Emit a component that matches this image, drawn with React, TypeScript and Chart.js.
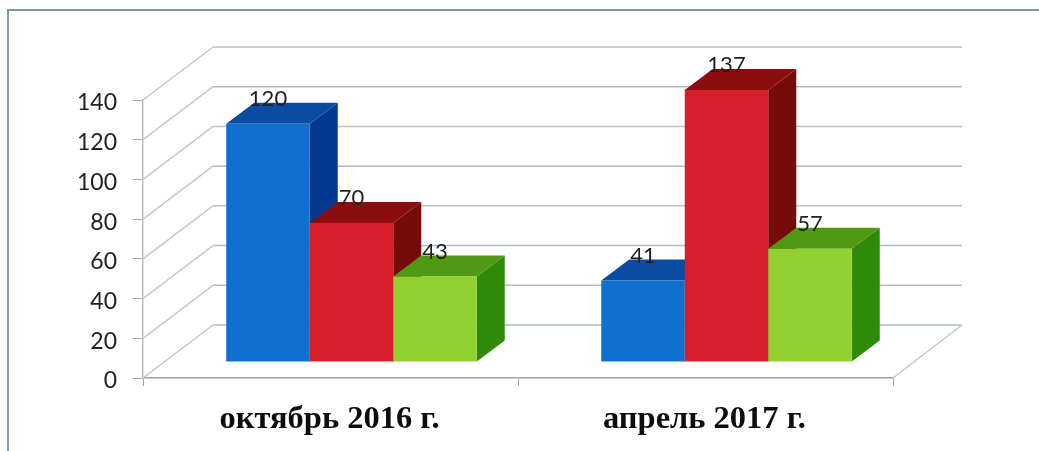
import React, { useEffect, useRef } from "react";
import { Chart, registerables } from "chart.js";

Chart.register(...registerables);

const categories = ["октябрь 2016 г.", "апрель 2017 г."];
const seriesBlue = [120, 41];
const seriesRed = [70, 137];
const seriesGreen = [43, 57];
const faceColors = ["#0f70cf", "#d81e2a", "#92d030"];
const topColors = ["#0a4ca3", "#8c0d10", "#4f9a12"];
const sideColors = ["#05388f", "#760b0b", "#2f8a0a"];

const WALL_DX = 70;
const WALL_DY = -53;
const BAR_DX = 21;
const BAR_DY = -16;
const BAR_DEPTH_X = 28;
const BAR_DEPTH_Y = -21;

const poly = (ctx: CanvasRenderingContext2D, pts: number[][], fill: string) => {
  ctx.beginPath();
  pts.forEach(([x, y], i) => (i ? ctx.lineTo(x, y) : ctx.moveTo(x, y)));
  ctx.closePath();
  ctx.fillStyle = fill;
  ctx.fill();
};

const bars3d = {
  id: "bars3d",
  beforeDraw(chart: any) {
    const { ctx } = chart;
    ctx.save();
    ctx.fillStyle = "#ffffff";
    ctx.fillRect(0, 0, chart.width, chart.height);
    ctx.fillStyle = "#7f9aa5";
    ctx.fillRect(7, 9, 1032, 2);
    ctx.fillRect(7, 9, 2, 442);
    ctx.restore();
  },
  beforeDatasetsDraw(chart: any) {
    const { ctx, chartArea: a, scales } = chart;
    ctx.save();
    ctx.lineWidth = 1.5;
    scales.y.ticks.forEach((t: any, i: number) => {
      const y = scales.y.getPixelForValue(t.value);
      ctx.strokeStyle = "#c8c8c8";
      ctx.beginPath();
      ctx.moveTo(a.left, y);
      ctx.lineTo(a.left + WALL_DX, y + WALL_DY);
      ctx.stroke();
      ctx.strokeStyle = i % 2 ? "#bdbdbd" : "#a9bccb";
      ctx.beginPath();
      ctx.moveTo(a.left + WALL_DX, y + WALL_DY);
      ctx.lineTo(a.right + WALL_DX - 1, y + WALL_DY);
      ctx.stroke();
    });
    ctx.strokeStyle = "#c8c8c8";
    ctx.beginPath();
    ctx.moveTo(a.right, a.bottom);
    ctx.lineTo(a.right + WALL_DX - 1, a.bottom + WALL_DY);
    ctx.stroke();
    ctx.restore();
  },
  beforeDatasetDraw() {
    return false;
  },
  afterDatasetsDraw(chart: any) {
    const { ctx } = chart;
    ctx.save();
    ctx.translate(BAR_DX, BAR_DY);
    chart.data.datasets.forEach((_: any, d: number) => {
      chart.getDatasetMeta(d).data.forEach((bar: any) => {
        const x0 = bar.x - bar.width / 2;
        const x1 = bar.x + bar.width / 2;
        poly(ctx, [[x1, bar.y], [x1 + BAR_DEPTH_X, bar.y + BAR_DEPTH_Y], [x1 + BAR_DEPTH_X, bar.base + BAR_DEPTH_Y], [x1, bar.base]], sideColors[d]);
        poly(ctx, [[x0, bar.y], [x1, bar.y], [x1 + BAR_DEPTH_X, bar.y + BAR_DEPTH_Y], [x0 + BAR_DEPTH_X, bar.y + BAR_DEPTH_Y]], topColors[d]);
        bar.draw(ctx);
      });
    });
    ctx.font = "22px Lato";
    ctx.fillStyle = "#1f1f1f";
    ctx.textAlign = "center";
    ctx.textBaseline = "middle";
    chart.data.datasets.forEach((ds: any, d: number) => {
      chart.getDatasetMeta(d).data.forEach((bar: any, i: number) => {
        ctx.fillText(String(ds.data[i]), bar.x, bar.y - 25);
      });
    });
    ctx.restore();
  },
};

export default function App() {
  const ref = useRef<HTMLCanvasElement>(null);
  useEffect(() => {
    const chart = new Chart(ref.current as HTMLCanvasElement, {
      type: "bar",
      data: {
        labels: categories,
        datasets: [seriesBlue, seriesRed, seriesGreen].map((data, i) => ({
          label: String(i),
          data,
          backgroundColor: faceColors[i],
          borderWidth: 0,
          barPercentage: 1,
          categoryPercentage: 0.668,
        })),
      },
      options: {
        responsive: false,
        animation: false,
        layout: { padding: { top: 100, right: 146, left: 0, bottom: 0 } },
        plugins: { legend: { display: false }, tooltip: { enabled: false } },
        scales: {
          x: {
            offset: true,
            afterFit: (s: any) => { s.height = 73; },
            border: { color: "#8fa5b8", width: 1.5 },
            grid: { drawOnChartArea: false, drawTicks: true, tickLength: 8, color: "#a8a8a8", offset: true },
            ticks: {
              padding: 14,
              labelOffset: -1,
              color: "#0d0d0d",
              maxRotation: 0,
              font: { family: "'Liberation Serif'", size: 32.5, weight: "bold" },
            },
          },
          y: {
            min: 0,
            max: 140,
            afterFit: (s: any) => { s.width = 143; },
            border: { color: "#bdbdbd", width: 1.5 },
            grid: { drawOnChartArea: false, drawTicks: true, tickLength: 10, color: "#a8a8a8" },
            ticks: {
              stepSize: 20,
              padding: 16,
              color: "#222222",
              callback: (v: any) => ["", String(v)],
              font: { family: "Lato", size: 23, lineHeight: "6px" },
            },
          },
        },
      },
      plugins: [bars3d],
    } as any);
    return () => chart.destroy();
  }, []);
  return (
    <div style={{ position: "fixed", left: 0, top: 0, width: 1039, height: 451 }}>
      <canvas ref={ref} width={1039} height={451} style={{ display: "block" }} />
    </div>
  );
}
